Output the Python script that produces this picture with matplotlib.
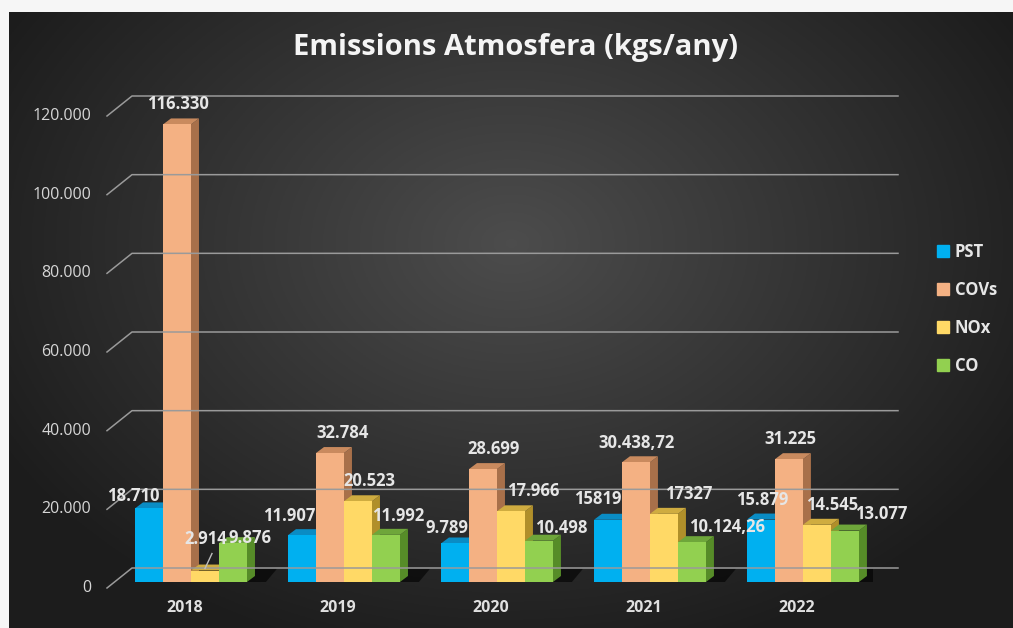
import numpy as np
import matplotlib.pyplot as plt
import matplotlib.transforms as mtransforms
from matplotlib.patches import Polygon, Patch
from matplotlib.lines import Line2D

years = ['2018', '2019', '2020', '2021', '2022']
series = ['PST', 'COVs', 'NOx', 'CO']
pst = [18710, 11907, 9789, 15819, 15879]
covs = [116330, 32784, 28699, 30438.72, 31225]
nox = [2914, 20523, 17966, 17327, 14545]
co = [9876, 11992, 10498, 10124.26, 13077]
pst_labels = ['18.710', '11.907', '9.789', '15819', '15.879']
covs_labels = ['116.330', '32.784', '28.699', '30.438,72', '31.225']
nox_labels = ['2.914', '20.523', '17.966', '17327', '14.545']
co_labels = ['9.876', '11.992', '10.498', '10.124,26', '13.077']
y_ticks = [0, 20000, 40000, 60000, 80000, 100000, 120000]
y_tick_labels = ['0', '20.000', '40.000', '60.000', '80.000', '100.000', '120.000']

# label nudges in pixels (dx right, dy up) from the top of each bar
label_dx = [[-16, -13, -8, -10, 1], [1, 13, 11, 1, 1], [1, 11, 22, 25, 15], [17, 12, 22, 35, 36]]
label_dy = [[12, 19, 15, 21, 20], [20, 20, 20, 19, 20], [32, 20, 20, 20, 20], [5, 19, 13, 15, 17]]

front = ['#00b0f0', '#f4b183', '#ffd966', '#92d050']
top = ['#0a8cc4', '#c98a5e', '#cfac40', '#6ea63a']
side = ['#0073a3', '#a8704a', '#b08f2a', '#568c28']

W, H = 1013, 628
fig = plt.figure(figsize=(W / 100, H / 100), dpi=100)
fig.patch.set_facecolor('#f6f6f6')

# dark panel with radial gradient
bg = fig.add_axes([9 / W, 0, 1 - 9 / W, (H - 12) / H])
gx, gy = np.meshgrid(np.linspace(-1, 1, 400), np.linspace(-1, 1, 300))
r = np.sqrt(((gx - 0.0) / 1.05) ** 2 + ((gy + 0.25) / 1.25) ** 2)
shade = np.clip(0.30 - 0.17 * r, 0.11, 0.30)
bg.imshow(np.dstack([shade] * 3), extent=(0, 1, 0, 1), aspect='auto', origin='upper')
bg.axis('off')

ax_l, ax_r, ax_b, ax_t = 105, 873, 582, 110
ax = fig.add_axes([ax_l / W, (H - ax_b) / H, (ax_r - ax_l) / W, (ax_b - ax_t) / H])
ax.set_xlim(-0.562, 4.458)
ax.set_ylim(0, 120000)
ax.axis('off')
ax.patch.set_alpha(0)

xpp = (4.458 + 0.562) / (ax_r - ax_l)
ypp = 120000 / (ax_b - ax_t)
w = 28 * xpp
ddx, ddy = 8 * xpp, 6 * ypp
ident = mtransforms.IdentityTransform()
grid_c = '#9a9a9a'

# gridlines on back wall + diagonal tick connectors
x0d, x1d = ax.bbox.x0, ax.bbox.x1
for v, lab in zip(y_ticks, y_tick_labels):
    fy = ax.transData.transform((0, v))[1]
    fig.add_artist(Line2D([x0d + 2, x0d + 27, x1d + 25], [fy - 6, fy + 14, fy + 14],
                          color=grid_c, lw=1.1, transform=ident))
    fig.text(x0d - 14, fy - 6, lab, transform=ident, ha='right', va='center',
             color='#d6d6d6', fontsize=11.5, family='Open Sans')

data = [pst, covs, nox, co]
labels = [pst_labels, covs_labels, nox_labels, co_labels]
x = np.arange(len(years))

# floor shadow
for i in x:
    xl = i - 2 * w
    xr = i + 2 * w + 14 * xpp
    ax.add_patch(Polygon([(xl, -1500), (xr, -1500), (xr + ddx * 2, ddy * 2.2), (xl + ddx, ddy * 2.2)],
                         closed=True, color='black', alpha=0.6, lw=0, zorder=1))

for j in range(4):
    xs = x + (j - 1.5) * w
    vals = data[j]
    for xi, v in zip(xs, vals):
        a, b = xi - w / 2, xi + w / 2
        ax.add_patch(Polygon([(b, 0), (b + ddx, ddy), (b + ddx, v + ddy), (b, v)],
                             closed=True, color=side[j], lw=0, zorder=2 + 2 * j))
        ax.add_patch(Polygon([(a, v), (b, v), (b + ddx, v + ddy), (a + ddx, v + ddy)],
                             closed=True, color=top[j], lw=0, zorder=2 + 2 * j))
    ax.bar(xs, vals, width=w, color=front[j], lw=0, zorder=3 + 2 * j)
    for k, (xi, v) in enumerate(zip(xs, vals)):
        px, py = ax.transData.transform((xi, v))
        fig.text(px + label_dx[j][k], py + label_dy[j][k], labels[j][k], transform=ident,
                 ha='center', va='center', color='#e6e6e6', fontsize=12,
                 fontweight='bold', family='Open Sans', zorder=20)

# leader line for the small 2018 NOx label
px, py = ax.transData.transform((x[0] + 0.5 * w, nox[0]))
fig.add_artist(Line2D([px + 7, px], [py + 17, py + 2], color='#bfbfbf', lw=1, transform=ident))

for i, yr in enumerate(years):
    px = ax.transData.transform((i, 0))[0]
    fig.text(px - 6, H - 608, yr, transform=ident, ha='center', va='center',
             color='#e0e0e0', fontsize=11.5, fontweight='bold', family='Open Sans')

fig.text(515 / W, 1 - 48 / H, 'Emissions Atmosfera (kgs/any)', ha='center', va='center',
         color='#f4f4f4', fontsize=21, fontweight='bold', family='Open Sans')

handles = [Patch(color=c) for c in front]
leg = fig.legend(handles, series, loc='upper left', bbox_to_anchor=(922 / W, 1 - 228 / H),
                 frameon=False, handlelength=0.7, handleheight=0.7, handletextpad=0.35,
                 labelspacing=1.2, prop={'family': 'Open Sans', 'weight': 'bold', 'size': 12})
for t in leg.get_texts():
    t.set_color('#e6e6e6')

fig.savefig('out.png', dpi=100)
plt.close()
